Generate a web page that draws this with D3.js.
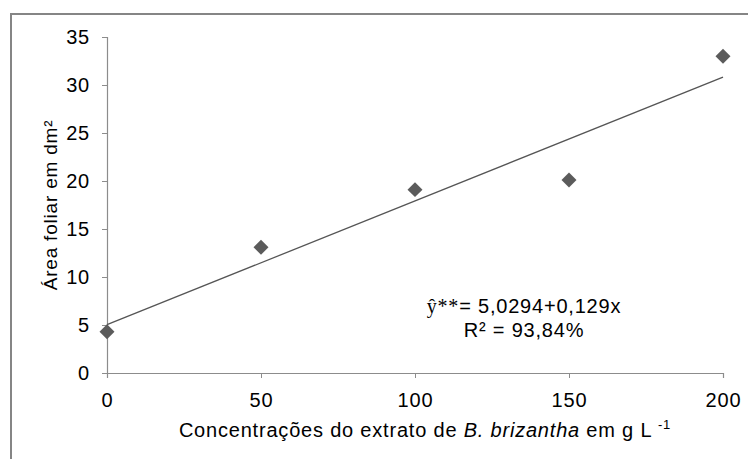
<!DOCTYPE html>
<html>
<head>
<meta charset="utf-8">
<script src="https://cdn.jsdelivr.net/npm/d3@7"></script>
<style>
  body { margin: 0; background: #fff; }
  svg text { font-family: "Liberation Sans", Arial, sans-serif; fill: #000; letter-spacing: 0.8px; }
</style>
</head>
<body>
<div id="chart"></div>
<script>
// dados
const concentracoes = [0, 50, 100, 150, 200];
const areaFoliar = [4.3, 13.1, 19.1, 20.1, 33.0];
const xTicks = [0, 50, 100, 150, 200];
const yTicks = [0, 5, 10, 15, 20, 25, 30, 35];
const coef = [5.0294, 0.129]; // y = a + b x

const W = 748, H = 459;
const svg = d3.select("#chart").append("svg")
              .attr("width", W)
              .attr("height", H);

// moldura
svg.append("rect")
   .attr("x", 11).attr("y", 14)
   .attr("width", 800).attr("height", 500)
   .attr("fill", "none")
   .attr("stroke", "#858585")
   .attr("stroke-width", 2);

const x = d3.scaleLinear().domain([0, 200]).range([107, 723]);
const y = d3.scaleLinear().domain([0, 35]).range([373, 37]);

// eixo y
const gy = svg.append("g")
              .attr("transform", "translate(107,0)")
              .call(d3.axisLeft(y).tickValues(yTicks).tickSize(5).tickPadding(12));
// eixo x
const gx = svg.append("g")
              .attr("transform", "translate(0,373)")
              .call(d3.axisBottom(x).tickValues(xTicks).tickSize(5).tickPadding(15));

[gx, gy].forEach(g => {
    g.select(".domain").attr("stroke", "#8c8c8c").attr("stroke-width", 1.2);
    g.selectAll(".tick line").attr("stroke", "#8c8c8c");
    g.selectAll(".tick text").attr("font-size", "20px")
     .attr("font-family", "Liberation Sans, Arial, sans-serif").attr("fill", "#000");
});

// linha de tendência
svg.append("line")
   .attr("x1", x(0)).attr("y1", y(coef[0]))
   .attr("x2", x(200)).attr("y2", y(coef[0] + coef[1] * 200))
   .attr("stroke", "#555")
   .attr("stroke-width", 1.3);

// pontos (losangos)
const pts = concentracoes.map((c, i) => ({ c, v: areaFoliar[i] }));
svg.selectAll("path.pt")
   .data(pts)
   .enter()
   .append("path")
   .attr("class", "pt")
   .attr("d", d3.symbol().type(d3.symbolSquare).size(112))
   .attr("transform", d => `translate(${x(d.c)},${y(d.v)}) rotate(45)`)
   .attr("fill", "#5b5b5b");

// título eixo y
svg.append("text")
   .attr("transform", "translate(57,205) rotate(-90)")
   .attr("text-anchor", "middle")
   .attr("font-size", "19px")
   .attr("letter-spacing", "0.5px")
   .text("Área foliar em dm²");

// título eixo x
const tx = svg.append("text")
   .attr("x", 425).attr("y", 437)
   .attr("text-anchor", "middle")
   .attr("font-size", "20px");
tx.append("tspan").text("Concentrações do extrato de ");
tx.append("tspan").attr("font-style", "italic").text("B. brizantha");
tx.append("tspan").text(" em g L ");
tx.append("tspan").attr("font-size", "13px").attr("dy", -8).text("-1");

// equação
const eq = svg.append("text")
   .attr("x", 524).attr("y", 313)
   .attr("text-anchor", "middle")
   .attr("font-size", "20px");
eq.append("tspan").attr("font-family", "Liberation Serif, Times New Roman, serif").text("ŷ**");
eq.append("tspan").text("= 5,0294+0,129x");

svg.append("text")
   .attr("x", 524).attr("y", 337)
   .attr("text-anchor", "middle")
   .attr("font-size", "20px")
   .text("R² = 93,84%");
</script>
</body>
</html>
